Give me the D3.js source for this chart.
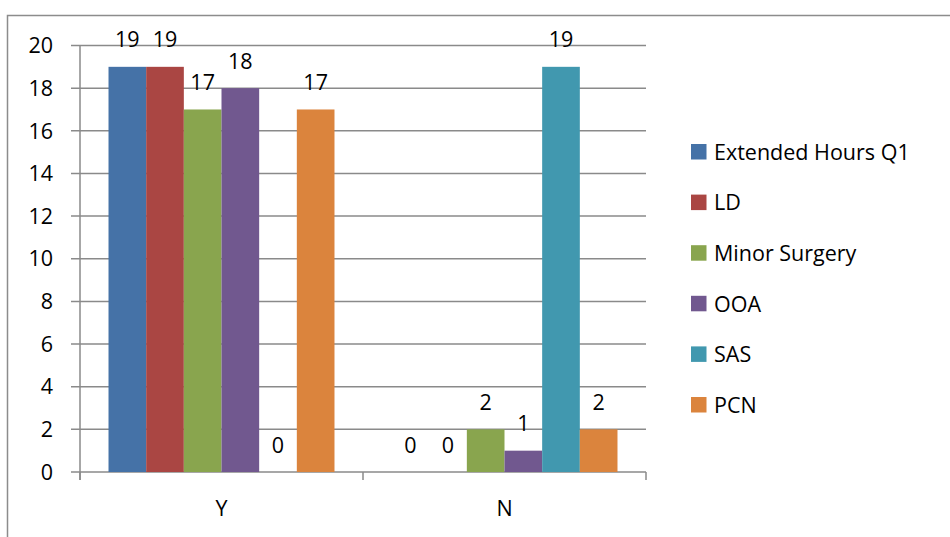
<!DOCTYPE html>
<html>
<head>
<meta charset="utf-8">
<script src="https://cdnjs.cloudflare.com/ajax/libs/d3/7.8.5/d3.min.js"></script>
<style>
  body { margin: 0; background: #fff; }
  svg { display: block; font-family: "Open Sans", sans-serif; }
</style>
</head>
<body>
<svg></svg>
<script>
const width = 950
const height = 537

var categories = ["Y", "N"]
var seriesNames = ["Extended Hours Q1", "LD", "Minor Surgery", "OOA", "SAS", "PCN"]
var seriesColors = ["#4572a7", "#aa4643", "#89a54e", "#71588f", "#4198af", "#db843d"]
var values = [
  [19, 0],   // Extended Hours Q1
  [19, 0],   // LD
  [17, 2],   // Minor Surgery
  [18, 1],   // OOA
  [0, 19],   // SAS
  [17, 2]    // PCN
]
var yTicks = [0, 2, 4, 6, 8, 10, 12, 14, 16, 18, 20]

const fontSize = "21.5px"

const svg = d3.select("svg")
  .attr("width", width)
  .attr("height", height)

// chart border
svg.append("rect")
  .attr("x", 7.5)
  .attr("y", 15.5)
  .attr("width", 960)
  .attr("height", 540)
  .attr("fill", "none")
  .attr("stroke", "#8c8c8c")
  .attr("stroke-width", 1.5)

const plot = { left: 80, right: 646, top: 45.5, bottom: 472 }

const y = d3.scaleLinear()
  .domain([0, 20])
  .range([plot.bottom, plot.top])

const x0 = d3.scaleBand()
  .domain(categories)
  .range([plot.left, plot.right])
  .paddingInner(0)
  .paddingOuter(0)

// bars occupy ~80% of each category
const x1 = d3.scaleBand()
  .domain(d3.range(seriesNames.length))
  .range([0, x0.bandwidth()])
  .paddingOuter(0.757)
  .paddingInner(0)

// gridlines
svg.append("g")
  .selectAll("line")
  .data(yTicks)
  .enter()
  .append("line")
  .attr("x1", plot.left - 9)
  .attr("x2", plot.right)
  .attr("y1", d => y(d))
  .attr("y2", d => y(d))
  .attr("stroke", "#8a8a8a")
  .attr("stroke-width", 1.5)

// y axis line
svg.append("line")
  .attr("x1", plot.left).attr("x2", plot.left)
  .attr("y1", plot.top).attr("y2", plot.bottom + 8)
  .attr("stroke", "#8a8a8a")
  .attr("stroke-width", 1.5)

// category ticks
svg.append("g")
  .selectAll("line")
  .data(categories.concat([null]))
  .enter()
  .append("line")
  .attr("x1", (d, i) => plot.left + i * x0.bandwidth())
  .attr("x2", (d, i) => plot.left + i * x0.bandwidth())
  .attr("y1", plot.bottom)
  .attr("y2", plot.bottom + 8)
  .attr("stroke", "#8a8a8a")
  .attr("stroke-width", 1.5)

// y tick labels
svg.append("g")
  .selectAll("text")
  .data(yTicks)
  .enter()
  .append("text")
  .attr("x", 53)
  .attr("y", d => y(d))
  .attr("dy", "0.36em")
  .attr("text-anchor", "end")
  .attr("font-size", fontSize)
  .attr("fill", "#000")
  .text(d => d)

// x labels
svg.append("g")
  .selectAll("text")
  .data(categories)
  .enter()
  .append("text")
  .attr("x", d => x0(d) + x0.bandwidth() / 2)
  .attr("y", 516)
  .attr("text-anchor", "middle")
  .attr("font-size", fontSize)
  .text(d => d)

// bars
const series = svg.append("g")
  .selectAll("g")
  .data(values)
  .enter()
  .append("g")

series.selectAll("rect")
  .data((d, si) => d.map((v, ci) => ({ v: v, si: si, ci: ci })))
  .enter()
  .append("rect")
  .attr("x", d => x0(categories[d.ci]) + x1(d.si))
  .attr("y", d => y(d.v))
  .attr("width", x1.bandwidth())
  .attr("height", d => plot.bottom - y(d.v))
  .attr("fill", d => seriesColors[d.si])

// value labels
series.selectAll("text")
  .data((d, si) => d.map((v, ci) => ({ v: v, si: si, ci: ci })))
  .enter()
  .append("text")
  .attr("x", d => x0(categories[d.ci]) + x1(d.si) + x1.bandwidth() / 2)
  .attr("y", d => y(d.v) - 19.5)
  .attr("text-anchor", "middle")
  .attr("font-size", fontSize)
  .text(d => d.v)

// legend
const legend = svg.append("g")
const legenditem = legend.selectAll("g")
  .data(seriesNames)
  .enter()
  .append("g")
  .attr("transform", (d, i) => "translate(691," + (144 + i * 50.6) + ")")

legenditem.append("rect")
  .attr("width", 15.5)
  .attr("height", 15.5)
  .attr("fill", (d, i) => seriesColors[i])

legenditem.append("text")
  .attr("x", 23)
  .attr("y", 8)
  .attr("dy", "0.36em")
  .attr("font-size", fontSize)
  .text(d => d)
</script>
</body>
</html>
